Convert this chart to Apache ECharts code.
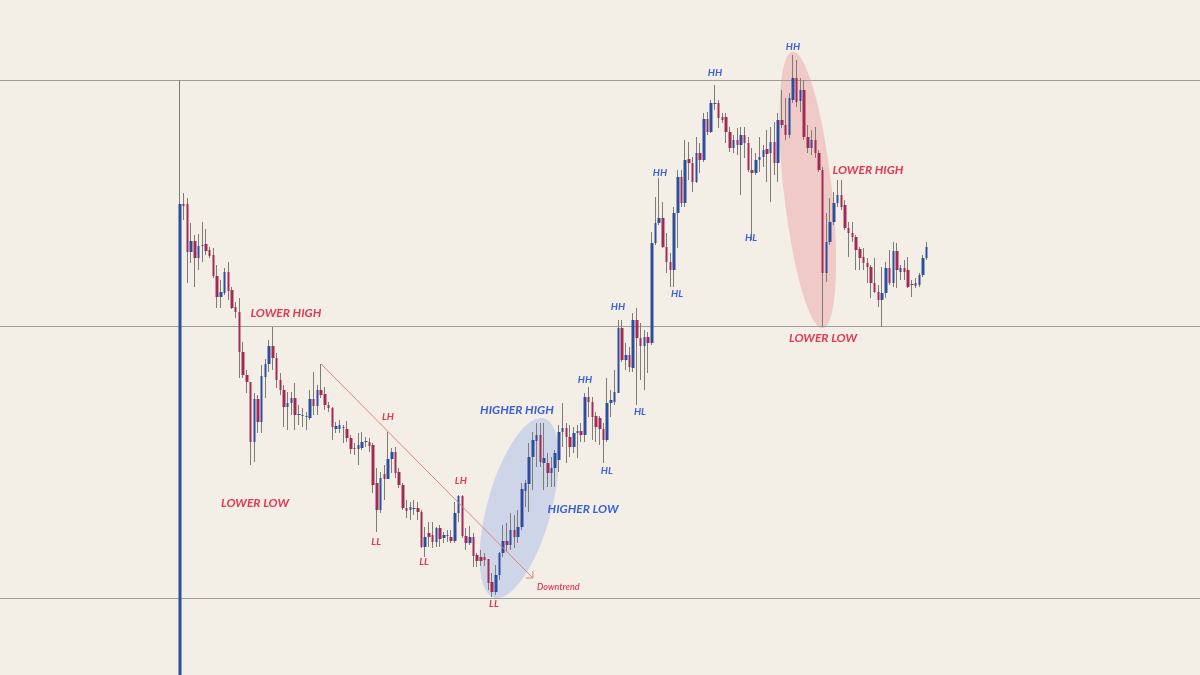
<!DOCTYPE html>
<html><head><meta charset="utf-8">
<script src="https://cdn.jsdelivr.net/npm/echarts@6/dist/echarts.min.js"></script>
<style>html,body{margin:0;padding:0;background:#f3efe7;}#c{width:1200px;height:675px;}</style>
</head><body><div id="c"></div>
<script>
// ---- candle data (price units) ----
const opens = [0,471,471,423,434,417,429,431,425,420,
399,378,382,403,385,368,363,323,300,293,
233,276,253,298,311,329,317,295,285,268,
272,277,260,259,258,257,276,269,285,281,
270,267,246,246,248,246,237,227,226,227,
233,233,230,192,165,201,196,216,223,203,
190,167,165,166,167,163,128,142,140,133,
147,137,139,138,134,162,179,139,132,138,
120,118,118,116,93,83,100,122,134,130,
145,138,148,184,191,218,234,240,212,212,
202,207,215,243,247,238,228,242,244,240,
278,273,259,257,246,235,272,273,282,347,
315,320,307,355,337,329,338,332,432,452,
457,428,413,405,462,498,472,516,512,493,
522,515,556,543,571,572,558,558,543,527,
535,530,540,532,505,502,515,518,526,522,
533,512,555,550,540,575,597,574,585,538,
527,535,522,505,402,433,453,472,480,470,
447,442,438,426,418,412,408,392,383,375,
382,407,392,424,403,407,405,390,392,390,
400,417];
const closes = [471,469,423,434,417,429,430,424,419,399,
378,383,403,384,367,363,323,300,293,233,
276,253,299,311,329,317,295,285,268,272,
277,260,261,260,259,276,269,285,280,270,
267,248,249,250,247,237,226,226,230,233,
234,229,190,165,197,196,216,223,202,190,
167,164,168,167,163,128,138,138,133,147,
136,140,140,134,162,179,139,132,138,119,
114,114,115,92,83,100,122,134,130,145,
138,148,186,192,218,235,240,213,217,202,
207,222,243,247,238,228,242,244,240,278,
273,258,248,246,235,272,275,283,347,315,
320,308,355,337,329,338,332,432,452,457,
428,413,405,462,498,472,515,512,493,522,
515,556,543,572,572,557,555,543,527,535,
530,540,532,505,502,515,518,525,521,533,
512,555,550,540,577,597,573,585,538,527,
535,522,505,402,433,453,472,480,468,447,
442,438,425,417,412,408,392,383,375,382,
407,392,424,405,407,403,388,391,389,400,
417,428];
const lows = [0,455,392,412,388,405,413,420,417,397,
367,367,380,375,366,357,297,297,282,210,
213,242,242,277,303,305,287,280,248,245,
260,245,250,248,245,255,260,260,277,265,
263,235,242,242,232,233,221,220,210,225,
228,223,182,143,162,175,196,202,197,187,
165,157,155,160,155,127,118,128,127,128,
128,132,133,132,132,153,137,125,130,108,
108,109,109,85,78,80,95,118,123,125,
127,132,145,168,163,185,208,208,185,188,
188,188,203,228,212,218,222,217,233,233,
258,235,233,230,212,233,258,270,282,313,
305,303,303,270,295,285,302,330,430,450,
427,402,388,388,427,468,468,495,483,492,
502,513,540,542,565,547,552,532,523,522,
520,480,517,503,435,500,503,508,493,473,
500,493,547,535,537,572,568,563,535,522,
520,517,503,348,393,430,450,468,465,445,
418,433,405,405,405,392,377,382,368,348,
377,390,388,387,395,395,387,378,387,388,
398,415];
const highs = [595,482,477,452,440,441,453,446,428,427,
410,395,407,413,388,373,377,333,305,293,
282,280,310,316,335,348,322,302,290,283,
283,292,270,267,263,285,303,290,311,288,
273,268,253,255,250,254,240,232,242,243,
238,237,232,207,203,210,243,227,228,207,
192,175,173,175,173,165,148,153,153,148,
150,143,145,145,173,180,180,147,149,142,
122,125,122,116,102,110,123,150,152,162,
160,165,192,195,232,243,252,252,252,222,
218,225,250,272,252,250,248,250,252,282,
288,278,263,259,252,297,285,305,355,355,
332,328,362,367,352,345,343,443,478,497,
473,442,422,468,505,505,535,533,518,538,
532,562,563,575,590,575,562,562,548,540,
547,548,548,538,527,522,538,530,545,548,
553,562,585,577,582,620,615,597,595,550,
545,548,525,508,462,477,483,495,495,475,
453,453,440,428,427,417,410,417,390,408,
413,425,433,432,410,415,418,395,397,402,
420,433];
const categories = opens.map((_, i) => i + 1);

// ---- annotation data ----
const levels = [595, 349, 77];                 // horizontal support / resistance lines
const trendFrom = [38, 311], trendTo = [95, 97];
const bigLabels = ['LOWER HIGH', 'LOWER LOW', 'HIGHER HIGH', 'HIGHER LOW', 'LOWER HIGH', 'LOWER LOW'];
const bigLabelAt = [[28.5, 362], [20.2, 172], [90.7, 265], [108.5, 166], [185.2, 505], [173.1, 337]];
const bigLabelSide = ['down', 'down', 'up', 'up', 'down', 'down'];
const smallLabels = ['LH', 'LL', 'LL', 'LH', 'LL', 'HH', 'HL', 'HH', 'HL', 'HH', 'HL', 'HH', 'HL', 'HH'];
const smallLabelAt = [[56.0, 258], [52.8, 133], [65.7, 113], [75.6, 194], [84.5, 71], [109.0, 295], [114.9, 204],
  [117.9, 368], [123.8, 263], [129.2, 502], [133.8, 381], [144.0, 602], [153.7, 437], [165.0, 628]];
const trendText = 'Downtrend';
const trendTextAt = [96.1, 88];
const ellipseCenters = [[91.3, 167], [169.0, 485]];

const BLUE = '#2d4e9e', RED = '#a42a55', WICK = '#7f7c77';
const TXT_RED = '#e23a52', TXT_BLUE = '#3b62dc';

const N = opens.length;
const step = 3.715;
const wickData = opens.map((o, i) => [o, closes[i], lows[i], highs[i]]);
const bodyData = opens.map((o, i) => [o, closes[i], Math.min(o, closes[i]), Math.max(o, closes[i])]);

const chart = echarts.init(document.getElementById('c'), null, { renderer: 'canvas' });
chart.setOption({
  backgroundColor: '#f3efe7',
  animation: false,
  grid: { left: 180 - step / 2, top: 0, width: step * N, height: 675 },
  xAxis: [
    { type: 'category', data: categories, boundaryGap: true, show: false },
    { type: 'value', min: -0.5, max: N - 0.5, show: false }
  ],
  yAxis: { type: 'value', min: 0, max: 675, show: false },
  series: [
    { type: 'candlestick', data: wickData, barWidth: 1, silent: true, z: 3,
      itemStyle: { color: WICK, color0: WICK, borderColor: WICK, borderColor0: WICK, borderWidth: 1 } },
    { type: 'candlestick', data: bodyData, barWidth: 3, silent: true, z: 4,
      itemStyle: { color: BLUE, color0: RED, borderColor: BLUE, borderColor0: RED, borderWidth: 0 } }
  ]
});

function px(p) { return chart.convertToPixel({ xAxisIndex: 1, yAxisIndex: 0 }, p); }
const els = [];
// ellipses
const ellipseStyle = [
  { rx: 32, ry: 93, rot: -0.27, fill: 'rgba(134,162,234,0.33)' },
  { rx: 24, ry: 139, rot: 0.11, fill: 'rgba(234,127,131,0.33)' }
];
ellipseCenters.forEach((c, i) => {
  const p = px(c); const s = ellipseStyle[i];
  els.push({ type: 'ellipse', x: p[0], y: p[1], rotation: s.rot, z: 1, silent: true,
    shape: { cx: 0, cy: 0, rx: s.rx, ry: s.ry }, style: { fill: s.fill } });
});
// levels
levels.forEach(v => {
  const y = Math.round(px([0, v])[1]) + 0.5;
  els.push({ type: 'line', z: 2, silent: true, shape: { x1: 0, y1: y, x2: 1200, y2: y }, style: { stroke: '#a19e98', lineWidth: 1 } });
});
// trend line with open arrow head
const a = px(trendFrom), b = px(trendTo);
els.push({ type: 'line', z: 5, silent: true, shape: { x1: a[0], y1: a[1], x2: b[0], y2: b[1] }, style: { stroke: '#e3827f', lineWidth: 1 } });
const ang = Math.atan2(a[1] - b[1], a[0] - b[0]), L = 7;
els.push({ type: 'polyline', z: 5, silent: true, shape: { points: [
  [b[0] + L * Math.cos(ang + Math.PI / 4), b[1] + L * Math.sin(ang + Math.PI / 4)], [b[0], b[1]],
  [b[0] + L * Math.cos(ang - Math.PI / 4), b[1] + L * Math.sin(ang - Math.PI / 4)]] },
  style: { stroke: '#e3827f', lineWidth: 1, fill: null } });
// text labels
bigLabels.forEach((t, i) => {
  const p = px(bigLabelAt[i]);
  els.push({ type: 'text', x: p[0], y: p[1], z: 10, silent: true,
    style: { text: t, fill: bigLabelSide[i] === 'up' ? TXT_BLUE : TXT_RED, font: 'italic bold 12px Lato', align: 'center', verticalAlign: 'middle' } });
});
smallLabels.forEach((t, i) => {
  const p = px(smallLabelAt[i]);
  els.push({ type: 'text', x: p[0], y: p[1], z: 10, silent: true,
    style: { text: t, fill: t[0] === 'L' ? TXT_RED : TXT_BLUE, font: 'italic bold 10px Lato', align: 'center', verticalAlign: 'middle' } });
});
const tp = px(trendTextAt);
els.push({ type: 'text', x: tp[0], y: tp[1], z: 10, silent: true,
  style: { text: trendText, fill: TXT_RED, font: 'italic 600 9px Lato', align: 'left', verticalAlign: 'middle' } });
chart.setOption({ graphic: { elements: els } });
</script>
</body></html>
